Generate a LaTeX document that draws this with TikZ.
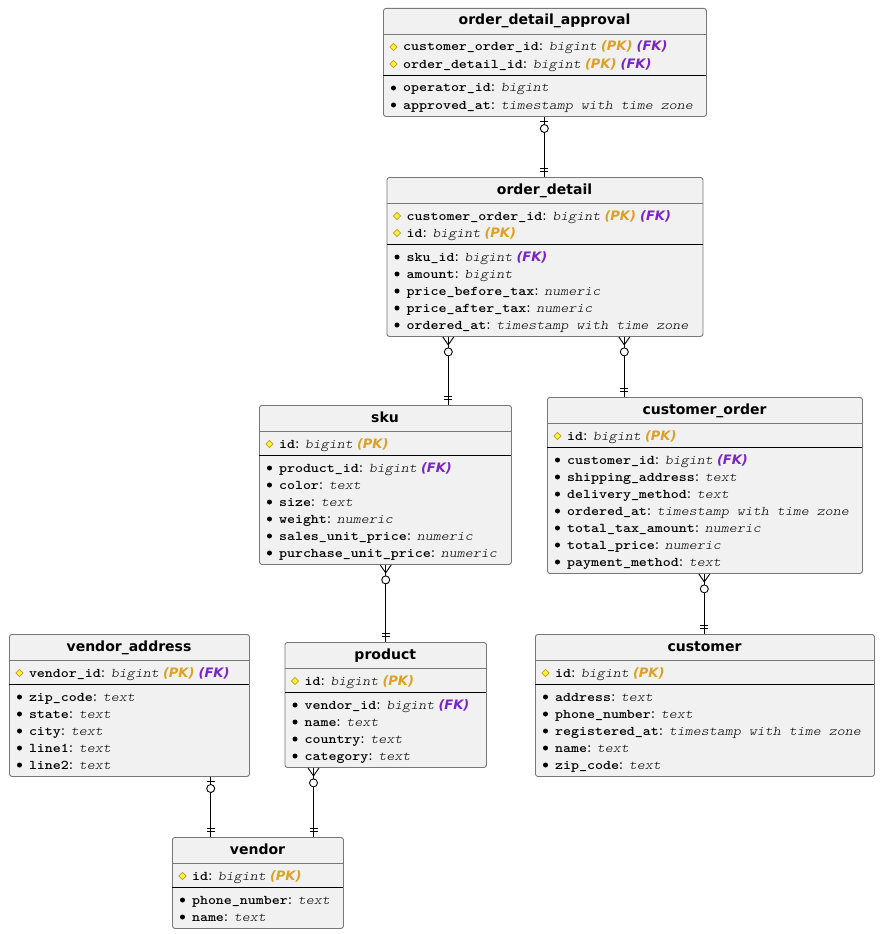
\documentclass[tikz,border=0pt]{standalone}
\usepackage{fontspec}
\setmainfont{DejaVu Sans}
\newfontfamily\monob[FakeStretch=1.143]{lmmonolt10-bold.otf}
\newfontfamily\monoi[FakeStretch=1.143]{lmmonolt10-oblique.otf}
\usetikzlibrary{shapes.geometric}

\definecolor{boxfill}{HTML}{F1F1F1}
\definecolor{boxline}{RGB}{120,120,120}
\definecolor{pkcol}{RGB}{222,160,36}
\definecolor{fkcol}{RGB}{122,36,204}
\definecolor{keyfill}{RGB}{255,240,60}
\definecolor{keyline}{RGB}{190,160,30}

\newcommand\fn[1]{{\monob\fontsize{13.33}{15}\selectfont #1}}
\newcommand\ft[1]{{\monoi\fontsize{13.33}{15}\selectfont #1}}
\newcommand\PK{ {\bfseries\itshape\color{pkcol}(PK)}}
\newcommand\FK{ {\bfseries\itshape\color{fkcol}(FK)}}

\newcount\rowno

\tikzset{
  erbox/.style={draw=boxline, fill=boxfill, line width=0.9pt, rounded corners=2.5pt, inner sep=0pt},
  ertitle/.style={anchor=base, inner sep=0pt, font=\fontsize{14}{16}\selectfont\bfseries},
  rowtext/.style={anchor=base west, inner sep=0pt, font=\fontsize{13}{15}\selectfont},
  keyicon/.style={diamond, draw=keyline, fill=keyfill, line width=0.6pt, minimum width=7.5pt, minimum height=7.5pt, inner sep=0pt},
  bulleticon/.style={circle, fill=black, inner sep=0pt, minimum size=5pt},
  conn/.style={draw=black, line width=0.9pt},
  ocirc/.style={circle, draw=black, fill=white, line width=0.9pt, inner sep=0pt, minimum size=8pt}
}

% entity: id, left, top, width, number of rows, title, body
\newcommand\entity[7]{%
  \xdef\eid{#1}\xdef\eL{#2}\xdef\eW{#4}%
  \pgfmathsetmacro\eH{40+17*#5}%
  \node[erbox, minimum width=#4pt, minimum height=\eH pt, anchor=north west] (#1) at (#2,#3) {};
  \node[ertitle] (#1-title) at (#2+#4/2,#3+17) {#6};
  \draw[boxline, line width=0.8pt] (#2,#3+26) -- (#2+#4,#3+26);
  \pgfmathsetmacro\tmpy{#3+39}\xdef\eY{\tmpy}%
  #7
}
\newcommand\krow[1]{%
  \global\advance\rowno by 1
  \node[keyicon] (\eid-k\the\rowno) at (\eL+10.5,\eY) {};
  \node[rowtext] (\eid-t\the\rowno) at (\eL+19.8,\eY+4) {#1};
  \pgfmathsetmacro\tmpy{\eY+17}\xdef\eY{\tmpy}%
}
\newcommand\arow[1]{%
  \global\advance\rowno by 1
  \node[bulleticon] (\eid-b\the\rowno) at (\eL+10.5,\eY) {};
  \node[rowtext] (\eid-t\the\rowno) at (\eL+19.8,\eY+4) {#1};
  \pgfmathsetmacro\tmpy{\eY+17}\xdef\eY{\tmpy}%
}
\newcommand\sepline{%
  \pgfmathsetmacro\sy{\eY-6}%
  \draw[black, line width=0.9pt] (\eL,\sy) -- (\eL+\eW,\sy);
  \pgfmathsetmacro\tmpy{\sy+13}\xdef\eY{\tmpy}%
}

% markers
\newcommand\mOne[1]{%
  \draw[conn] ([xshift=-4pt,yshift=-4.3pt]#1) -- ([xshift=4pt,yshift=-4.3pt]#1);
  \node[ocirc] (#1-o) at ([yshift=-11.6pt]#1) {};
}
\newcommand\mMany[1]{%
  \draw[conn] ([xshift=-5.5pt]#1) -- ([yshift=-8pt]#1) -- ([xshift=5.5pt]#1);
  \node[ocirc] (#1-o) at ([yshift=-15pt]#1) {};
}
\newcommand\mTwo[1]{%
  \draw[conn] ([xshift=-4pt,yshift=8.7pt]#1) -- ([xshift=4pt,yshift=8.7pt]#1);
  \draw[conn] ([xshift=-4pt,yshift=5.7pt]#1) -- ([xshift=4pt,yshift=5.7pt]#1);
}

\begin{document}
\begin{tikzpicture}[x=1pt,y=-1pt]
\useasboundingbox (0,0) rectangle (880,934);

\entity{oda}{383}{8}{323}{4}{order\_detail\_approval}{%
  \krow{\fn{customer\_order\_id}: \ft{bigint}\PK\FK}
  \krow{\fn{order\_detail\_id}: \ft{bigint}\PK\FK}
  \sepline
  \arow{\fn{operator\_id}: \ft{bigint}}
  \arow{\fn{approved\_at}: \ft{timestamp with time zone}}
}

\entity{od}{386.5}{177}{316}{7}{order\_detail}{%
  \krow{\fn{customer\_order\_id}: \ft{bigint}\PK\FK}
  \krow{\fn{id}: \ft{bigint}\PK}
  \sepline
  \arow{\fn{sku\_id}: \ft{bigint}\FK}
  \arow{\fn{amount}: \ft{bigint}}
  \arow{\fn{price\_before\_tax}: \ft{numeric}}
  \arow{\fn{price\_after\_tax}: \ft{numeric}}
  \arow{\fn{ordered\_at}: \ft{timestamp with time zone}}
}

\entity{sku}{259}{405}{252}{7}{sku}{%
  \krow{\fn{id}: \ft{bigint}\PK}
  \sepline
  \arow{\fn{product\_id}: \ft{bigint}\FK}
  \arow{\fn{color}: \ft{text}}
  \arow{\fn{size}: \ft{text}}
  \arow{\fn{weight}: \ft{numeric}}
  \arow{\fn{sales\_unit\_price}: \ft{numeric}}
  \arow{\fn{purchase\_unit\_price}: \ft{numeric}}
}

\entity{co}{547}{397}{315}{8}{customer\_order}{%
  \krow{\fn{id}: \ft{bigint}\PK}
  \sepline
  \arow{\fn{customer\_id}: \ft{bigint}\FK}
  \arow{\fn{shipping\_address}: \ft{text}}
  \arow{\fn{delivery\_method}: \ft{text}}
  \arow{\fn{ordered\_at}: \ft{timestamp with time zone}}
  \arow{\fn{total\_tax\_amount}: \ft{numeric}}
  \arow{\fn{total\_price}: \ft{numeric}}
  \arow{\fn{payment\_method}: \ft{text}}
}

\entity{cu}{535}{634}{339}{6}{customer}{%
  \krow{\fn{id}: \ft{bigint}\PK}
  \sepline
  \arow{\fn{address}: \ft{text}}
  \arow{\fn{phone\_number}: \ft{text}}
  \arow{\fn{registered\_at}: \ft{timestamp with time zone}}
  \arow{\fn{name}: \ft{text}}
  \arow{\fn{zip\_code}: \ft{text}}
}

\entity{va}{9}{634}{240}{6}{vendor\_address}{%
  \krow{\fn{vendor\_id}: \ft{bigint}\PK\FK}
  \sepline
  \arow{\fn{zip\_code}: \ft{text}}
  \arow{\fn{state}: \ft{text}}
  \arow{\fn{city}: \ft{text}}
  \arow{\fn{line1}: \ft{text}}
  \arow{\fn{line2}: \ft{text}}
}

\entity{pr}{284.5}{642}{201.5}{5}{product}{%
  \krow{\fn{id}: \ft{bigint}\PK}
  \sepline
  \arow{\fn{vendor\_id}: \ft{bigint}\FK}
  \arow{\fn{name}: \ft{text}}
  \arow{\fn{country}: \ft{text}}
  \arow{\fn{category}: \ft{text}}
}

\entity{ve}{172}{837}{171}{3}{vendor}{%
  \krow{\fn{id}: \ft{bigint}\PK}
  \sepline
  \arow{\fn{phone\_number}: \ft{text}}
  \arow{\fn{name}: \ft{text}}
}

% connector x positions
\coordinate (x1) at (544.3,0);
\coordinate (x2) at (448.3,0);
\coordinate (x3) at (624.3,0);
\coordinate (x4) at (385.7,0);
\coordinate (x5) at (704.3,0);
\coordinate (x6) at (210.7,0);
\coordinate (x7) at (313.5,0);

\coordinate (s1) at (oda.south -| x1); \coordinate (t1) at (od.north -| x1);
\coordinate (s2) at (od.south -| x2);  \coordinate (t2) at (sku.north -| x2);
\coordinate (s3) at (od.south -| x3);  \coordinate (t3) at (co.north -| x3);
\coordinate (s4) at (sku.south -| x4); \coordinate (t4) at (pr.north -| x4);
\coordinate (s5) at (co.south -| x5);  \coordinate (t5) at (cu.north -| x5);
\coordinate (s6) at (va.south -| x6);  \coordinate (t6) at (ve.north -| x6);
\coordinate (s7) at (pr.south -| x7);  \coordinate (t7) at (ve.north -| x7);

\foreach \i in {1,...,7} {\draw[conn] (s\i) -- (t\i);}

\mOne{s1} \mTwo{t1}
\mMany{s2} \mTwo{t2}
\mMany{s3} \mTwo{t3}
\mMany{s4} \mTwo{t4}
\mMany{s5} \mTwo{t5}
\mOne{s6} \mTwo{t6}
\mMany{s7} \mTwo{t7}
\end{tikzpicture}
\end{document}
